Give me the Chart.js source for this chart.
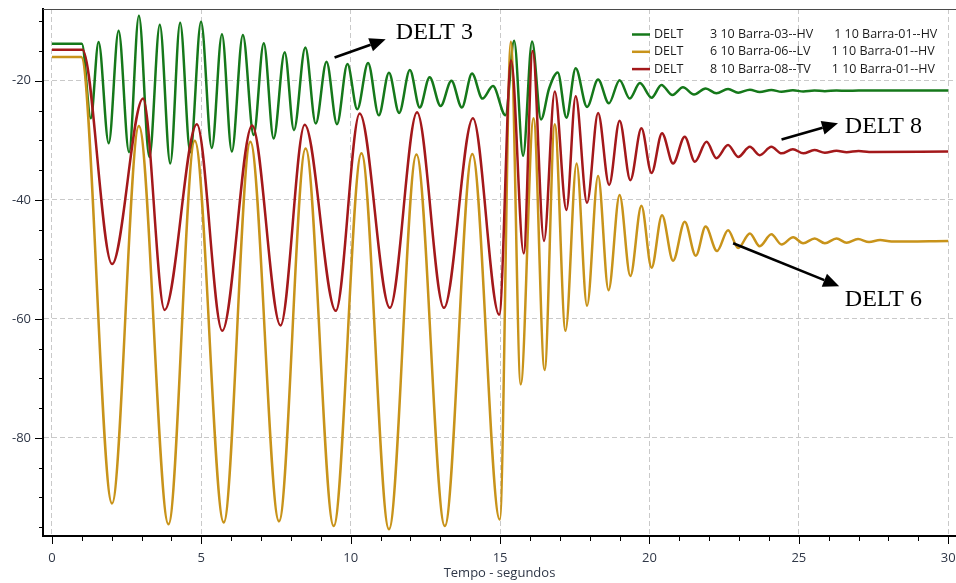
<!DOCTYPE html>
<html>
<head>
<meta charset="utf-8">
<style>
  html, body { margin: 0; padding: 0; background: #ffffff; }
  canvas { display: block; }
</style>
<script src="https://cdn.jsdelivr.net/npm/chart.js@4.4.1/dist/chart.umd.min.js"></script>
</head>
<body>
<canvas id="chart" width="956" height="583"></canvas>
<script>
// Rotor angles (degrees) of three machines after the disturbance,
// sampled at the turning points of each swing.
const delt3Time = [0, 1.0, 1.30, 1.56, 1.90, 2.23, 2.58, 2.91, 3.26, 3.61, 3.96, 4.29, 4.63, 4.99, 5.35,
  5.69, 6.02, 6.39, 6.75, 7.09, 7.42, 7.79, 8.10, 8.48, 8.83, 9.19, 9.54, 9.89, 10.22, 10.58, 10.94,
  11.28, 11.62, 11.98, 12.31, 12.64, 13.01, 13.37, 13.72, 14.06, 14.41, 14.76, 15.18, 15.47, 15.77,
  16.07, 16.37, 16.64, 16.93, 17.22, 17.53, 17.91, 18.28, 18.64, 19.00, 19.34, 19.68, 20.07, 20.40,
  20.77, 21.12, 21.49, 21.88, 22.24, 22.63, 22.97, 23.36, 23.69, 24.08, 24.42, 24.80, 25.15, 25.52,
  25.87, 26.26, 26.60, 27.00, 30];
const delt3Angle = [-13.8, -13.8, -26.3, -13.5, -30.5, -11.6, -32.0, -9.1, -32.8, -10.6, -33.9, -10.25, -32.0, -10.1, -31.3,
  -12.2, -31.9, -12.3, -29.1, -13.7, -29.7, -15.2, -28.3, -14.4, -27.2, -16.8, -27.3, -17.2, -24.8, -17.0, -25.8,
  -18.65, -25.4, -18.2, -24.5, -19.4, -24.25, -20.0, -24.5, -18.8, -23.0, -20.9, -25.8, -13.3, -32.6,
  -13.4, -26.5, -21.3, -18.6, -26.2, -17.9, -24.4, -19.8, -23.8, -19.9, -23.0, -20.4, -22.85, -20.7,
  -22.4, -21.1, -22.3, -21.3, -22.1, -21.4, -22.0, -21.5, -21.9, -21.55, -21.85, -21.6, -21.8, -21.65,
  -21.75, -21.65, -21.7, -21.65, -21.65];

const delt6Time = [0, 0.98, 2.01, 2.91, 3.90, 4.78, 5.75, 6.64, 7.60, 8.49, 9.43, 10.36, 11.28, 12.20,
  13.15, 14.07, 14.99, 15.36, 15.69, 16.12, 16.49, 16.83, 17.19, 17.56, 17.91, 18.28, 18.63, 19.00,
  19.36, 19.73, 20.07, 20.42, 20.79, 21.18, 21.55, 21.88, 22.26, 22.63, 22.97, 23.36, 23.69, 24.08,
  24.42, 24.81, 25.14, 25.53, 25.87, 26.26, 26.60, 26.98, 27.35, 27.72, 28.10, 30];
const delt6Angle = [-16.0, -16.0, -91.0, -27.6, -94.5, -30.1, -94.2, -30.25, -94.0, -31.4, -94.8, -32.2, -95.35, -32.4,
  -94.8, -32.3, -93.7, -13.45, -71.0, -26.3, -68.6, -27.3, -62.0, -33.9, -57.8, -36.0, -55.2, -39.2,
  -52.8, -41.0, -51.4, -42.6, -50.25, -43.7, -49.4, -44.5, -48.6, -45.1, -48.1, -45.65, -47.8, -45.8,
  -47.5, -46.3, -47.3, -46.5, -47.3, -46.5, -47.2, -46.6, -47.1, -46.75, -47.0, -46.9];

const delt8Time = [0, 1.02, 2.01, 3.05, 3.77, 4.85, 5.70, 6.70, 7.65, 8.46, 9.50, 10.30, 11.31, 12.22,
  13.12, 14.09, 14.97, 15.37, 15.79, 16.09, 16.47, 16.83, 17.22, 17.53, 17.91, 18.28, 18.65, 19.00,
  19.36, 19.73, 20.07, 20.42, 20.79, 21.18, 21.52, 21.91, 22.24, 22.63, 22.97, 23.36, 23.69, 24.08,
  24.42, 24.80, 25.15, 25.52, 25.87, 26.26, 26.60, 27.00, 27.35, 30];
const delt8Angle = [-14.8, -14.8, -50.8, -23.0, -58.5, -27.3, -62.0, -27.5, -61.1, -27.4, -58.65, -25.5, -58.15, -25.3,
  -58.15, -26.3, -59.3, -16.6, -49.0, -15.0, -46.9, -21.8, -41.7, -22.6, -40.5, -25.4, -37.5, -26.7,
  -36.7, -28.0, -35.5, -28.8, -33.9, -29.4, -33.6, -30.25, -33.0, -30.8, -32.8, -31.1, -32.5, -31.1,
  -32.2, -31.5, -32.2, -31.65, -32.1, -31.75, -32.0, -31.8, -31.95, -31.9];

// Legend columns: variable, monitored bus, reference bus
const seriesVars = ['DELT', 'DELT', 'DELT'];
const seriesBuses = ['3 10 Barra-03--HV', '6 10 Barra-06--LV', '8 10 Barra-08--TV'];
const seriesRefs = ['1 10 Barra-01--HV', '1 10 Barra-01--HV', '1 10 Barra-01--HV'];
const seriesColors = ['#15781a', '#c8931a', '#a3181a'];

// Call-outs: label text, arrow tail and head, label anchor (all in data units)
const calloutText = ['DELT 3', 'DELT 8', 'DELT 6'];
const calloutTail = [[9.46, -16.1], [24.42, -29.85], [22.80, -47.3]];
const calloutHead = [[11.17, -13.05], [26.31, -27.16], [26.35, -54.5]];
const calloutAt = [[11.51, -12.95], [26.54, -28.75], [26.54, -57.85]];

const axisTitle = 'Tempo - segundos';

function pairs(ts, vs) { return ts.map((t, i) => ({ x: t, y: vs[i] })); }

const LABEL_FONT = '"Open Sans", "Noto Sans", sans-serif';
const TICK_COLOR = '#2f3747';

// keep the plot area exactly where the axes are fitted, no extra label overhang
function noOverhang(scale) {
  scale.paddingTop = 0;
  scale.paddingBottom = 0;
  scale.paddingLeft = 0;
  scale.paddingRight = 0;
}

const decorations = {
  id: 'decorations',
  afterDraw(chart) {
    const ctx = chart.ctx;
    const ca = chart.chartArea;
    const xs = chart.scales.x, ys = chart.scales.y;
    ctx.save();

    // frame line along the top of the plot
    ctx.strokeStyle = '#4a4a4a';
    ctx.lineWidth = 1;
    ctx.beginPath();
    ctx.moveTo(ca.left, Math.round(ca.top) + 0.5);
    ctx.lineTo(ca.right, Math.round(ca.top) + 0.5);
    ctx.stroke();

    // tick marks: long at labelled values, short in between
    ctx.strokeStyle = '#000';
    ctx.lineWidth = 1;
    ctx.beginPath();
    xs.ticks.forEach(t => {
      const px = Math.round(xs.getPixelForValue(t.value)) + 0.5;
      const len = (t.value % 5 === 0) ? 8 : 5;
      ctx.moveTo(px, ca.bottom);
      ctx.lineTo(px, ca.bottom + len);
    });
    ys.ticks.forEach(t => {
      const py = Math.round(ys.getPixelForValue(t.value)) + 0.5;
      const len = (t.value % 20 === 0) ? 8 : 4;
      ctx.moveTo(ca.left, py);
      ctx.lineTo(ca.left - len, py);
    });
    ctx.stroke();

    // legend in the upper right corner
    ctx.font = '12.5px ' + LABEL_FONT;
    ctx.textBaseline = 'middle';
    ctx.textAlign = 'left';
    const lx = ca.right - 324;
    chart.data.datasets.forEach((ds, i) => {
      const y = ca.top + 25.5 + i * 17.3;
      ctx.strokeStyle = seriesColors[i];
      ctx.lineWidth = 2.5;
      ctx.beginPath();
      ctx.moveTo(lx, y);
      ctx.lineTo(lx + 18, y);
      ctx.stroke();
      ctx.fillStyle = '#1c1c1c';
      ctx.fillText(seriesVars[i], lx + 22, y);
      ctx.fillText(seriesBuses[i], lx + 78, y);
      const w = ctx.measureText(seriesBuses[i]).width;
      ctx.fillText(seriesRefs[i], lx + 78 + w + 21, y);
    });

    // call-outs with arrows
    ctx.fillStyle = '#000';
    ctx.strokeStyle = '#000';
    calloutText.forEach((txt, i) => {
      const x0 = xs.getPixelForValue(calloutTail[i][0]);
      const y0 = ys.getPixelForValue(calloutTail[i][1]);
      const x1 = xs.getPixelForValue(calloutHead[i][0]);
      const y1 = ys.getPixelForValue(calloutHead[i][1]);
      const ang = Math.atan2(y1 - y0, x1 - x0);
      const headLen = 16, headHalf = 7;
      const bx = x1 - headLen * Math.cos(ang), by = y1 - headLen * Math.sin(ang);
      ctx.lineWidth = 2.6;
      ctx.beginPath();
      ctx.moveTo(x0, y0);
      ctx.lineTo(bx, by);
      ctx.stroke();
      ctx.beginPath();
      ctx.moveTo(x1, y1);
      ctx.lineTo(bx + headHalf * Math.sin(ang), by - headHalf * Math.cos(ang));
      ctx.lineTo(bx - headHalf * Math.sin(ang), by + headHalf * Math.cos(ang));
      ctx.closePath();
      ctx.fill();
      ctx.font = '24px "Liberation Serif", "Times New Roman", serif';
      ctx.textBaseline = 'alphabetic';
      ctx.textAlign = 'left';
      ctx.fillText(txt, xs.getPixelForValue(calloutAt[i][0]), ys.getPixelForValue(calloutAt[i][1]));
    });
    ctx.restore();
  }
};

new Chart(document.getElementById('chart'), {
  type: 'line',
  data: {
    datasets: [
      { label: seriesVars[0] + ' ' + seriesBuses[0], data: pairs(delt3Time, delt3Angle), borderColor: seriesColors[0], order: 2 },
      { label: seriesVars[1] + ' ' + seriesBuses[1], data: pairs(delt6Time, delt6Angle), borderColor: seriesColors[1], order: 1 },
      { label: seriesVars[2] + ' ' + seriesBuses[2], data: pairs(delt8Time, delt8Angle), borderColor: seriesColors[2], order: 0 }
    ]
  },
  options: {
    responsive: false,
    animation: false,
    devicePixelRatio: 1,
    layout: { padding: { top: 9, left: 0, right: 0, bottom: 0 } },
    elements: {
      line: { borderWidth: 2.5, cubicInterpolationMode: 'monotone', fill: false },
      point: { radius: 0, hoverRadius: 0 }
    },
    plugins: {
      legend: { display: false },
      tooltip: { enabled: false }
    },
    scales: {
      x: {
        type: 'linear',
        min: -0.30,
        max: 30.26,
        afterFit(scale) { scale.height = 47; noOverhang(scale); },
        ticks: {
          stepSize: 1,
          includeBounds: false,
          autoSkip: false,
          maxRotation: 0,
          padding: 14,
          color: TICK_COLOR,
          font: { family: LABEL_FONT, size: 13 },
          callback: v => (v % 5 === 0 ? String(v) : '')
        },
        grid: {
          drawTicks: false,
          color: c => (c.tick && c.tick.value % 5 === 0 ? '#c9c9c9' : 'rgba(0,0,0,0)'),
          lineWidth: 1
        },
        border: { color: '#000', width: 2, dash: [5, 3] },
        title: {
          display: true,
          text: axisTitle,
          color: TICK_COLOR,
          font: { family: LABEL_FONT, size: 13 },
          padding: { top: 0, bottom: 2 }
        }
      },
      y: {
        type: 'linear',
        min: -96.47,
        max: -7.95,
        afterFit(scale) { scale.width = 43; noOverhang(scale); },
        ticks: {
          stepSize: 5,
          includeBounds: false,
          autoSkip: false,
          padding: 12,
          color: TICK_COLOR,
          font: { family: LABEL_FONT, size: 13 },
          callback: v => (v % 20 === 0 ? String(v) : '')
        },
        grid: {
          drawTicks: false,
          color: c => (c.tick && c.tick.value % 20 === 0 ? '#c9c9c9' : 'rgba(0,0,0,0)'),
          lineWidth: 1
        },
        border: { color: '#000', width: 2, dash: [5, 3] }
      }
    }
  },
  plugins: [decorations]
});
</script>
</body>
</html>
